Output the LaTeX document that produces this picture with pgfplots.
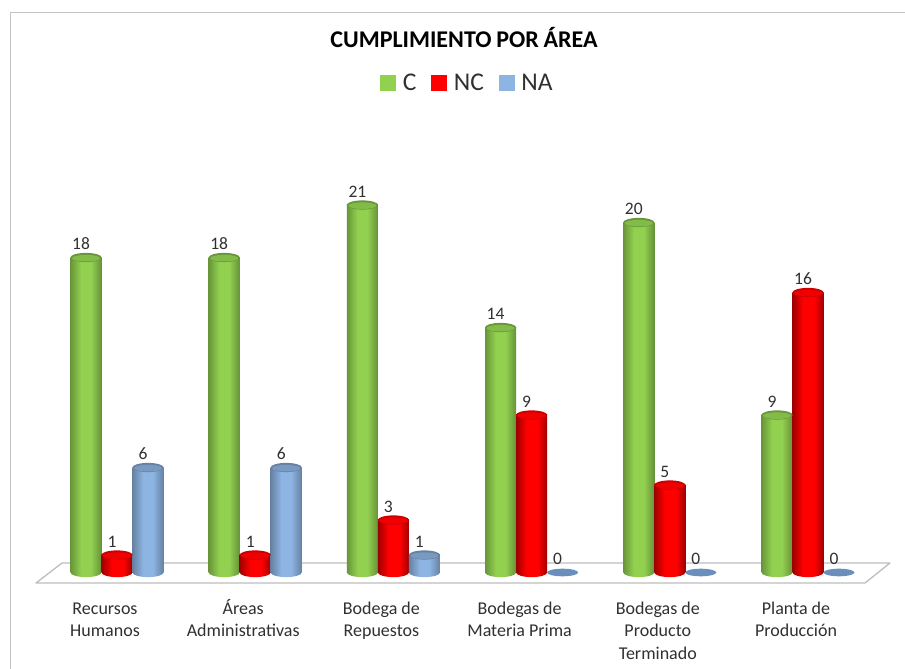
\documentclass[border=0pt]{standalone}
\usepackage{fontspec}
\setmainfont{Carlito}
\usepackage{pgfplots}
\usepackage{pgfplotstable}
\pgfplotsset{compat=1.18}

\definecolor{lbl}{HTML}{303030}
\definecolor{framec}{HTML}{C4C4C4}
\definecolor{floorc}{HTML}{BDBDBD}
\definecolor{cgreen}{HTML}{92D050}
\definecolor{cred}{HTML}{FF0000}
\definecolor{cblue}{HTML}{8DB4E2}
\definecolor{flatblue}{HTML}{6A8FBC}

\pgfdeclarehorizontalshading{greenbar}{100bp}{
  color(0bp)=(cgreen!72!black); color(25bp)=(cgreen!72!black); color(42bp)=(cgreen);
  color(58bp)=(cgreen); color(75bp)=(cgreen!70!black); color(100bp)=(cgreen!70!black)}
\pgfdeclarehorizontalshading{redbar}{100bp}{
  color(0bp)=(cred!62!black); color(25bp)=(cred!62!black); color(42bp)=(cred);
  color(60bp)=(cred); color(75bp)=(cred!62!black); color(100bp)=(cred!62!black)}
\pgfdeclarehorizontalshading{bluebar}{100bp}{
  color(0bp)=(cblue!72!black); color(25bp)=(cblue!72!black); color(42bp)=(cblue);
  color(58bp)=(cblue); color(75bp)=(cblue!72!black); color(100bp)=(cblue!72!black)}

% cylinder ends: a rim with a lighter inside on top, the lower half ellipse below
\newcommand\cylmarks[4]{%
  \pgfdeclareplotmark{#1cap}{%
    \pgfsetfillcolor{#2}\pgfpathellipse{\pgfpointorigin}{\pgfqpoint{15.6pt}{0pt}}{\pgfqpoint{0pt}{4.6pt}}\pgfusepathqfill
    \pgfsetfillcolor{#3}\pgfpathellipse{\pgfqpoint{0pt}{-0.7pt}}{\pgfqpoint{14pt}{0pt}}{\pgfqpoint{0pt}{3.3pt}}\pgfusepathqfill}%
  \pgfdeclareplotmark{#1base}{%
    \pgfpathmoveto{\pgfqpoint{-15.5pt}{0pt}}%
    \pgfpatharc{180}{360}{15.5pt and 4.6pt}\pgfpathclose
    \pgfshadepath{#4}{0}\pgfusepath{discard}}%
}
\colorlet{grim}{cgreen!72!black}\colorlet{gin}{cgreen!90!black}
\colorlet{rrim}{cred!80!black}\colorlet{rin}{cred!94!black}
\colorlet{brim}{cblue!72!black}\colorlet{bin}{cblue!85!black}
\cylmarks{g}{grim}{gin}{greenbar}
\cylmarks{r}{rrim}{rin}{redbar}
\cylmarks{b}{brim}{bin}{bluebar}
\pgfdeclareplotmark{cylflat}{\pgfpathellipse{\pgfpointorigin}{\pgfqpoint{15.5pt}{0pt}}{\pgfqpoint{0pt}{3.8pt}}\pgfusepathqfill}

% same height of first line, with or without an accent
\newcommand\tl{\rule{0pt}{17pt}}

\pgfplotstableread{
x C NC NA
0 18 1 6
1 18 1 6
2 21 3 1
3 14 9 0
4 20 5 0
5 9 16 0
}\areas

\pgfplotsset{
  cylbar/.style={ybar, bar width=31pt, bar shift=0pt, draw=none, forget plot, shading=#1},
  lblcap/.style={nodes near coords, point meta=explicit symbolic, every node near coord/.append style={font=\fontsize{17.5}{17.5}\selectfont, text=lbl, xshift=-5pt, yshift=6.5pt, inner sep=1pt, anchor=south}},
}

\begin{document}
\begin{tikzpicture}[x=1pt,y=1pt]
\path[use as bounding box] (0,-96.5) rectangle (905,572.5);
% frame and floor
\draw[framec, line width=1.8pt] (10.5,-96.5) -- (10.5,560) -- (905,560);
\draw[floorc, line width=1.3pt, line join=round] (36,-10.5) -- (865,-10.5) -- (890,9.5) -- (62,9.5) -- cycle;
\node[font=\fontsize{24}{24}\bfseries\selectfont, text=black] at (464,534.5) {\spaceskip=0.2em CUMPLIMIENTO POR ÁREA};

\begin{axis}[
  scale only axis, width=905pt, height=560pt,
  xmin=-0.8466, xmax=5.7019, ymin=0, ymax=32,
  axis line style={draw=none}, major tick length=0pt,
  clip=false,
  ytick=\empty,
  xtick={0,1,2,3,4,5},
  xticklabels={{\tl Recursos\\Humanos},{\tl Áreas\\Administrativas},{\tl Bodega de\\Repuestos},{\tl Bodegas de\\Materia Prima},{\tl Bodegas de\\Producto\\Terminado},{\tl Planta de\\Producción}},
  xticklabel style={align=center, font=\fontsize{18}{22.8}\selectfont, text=lbl, xshift=-12pt, yshift=-21pt, anchor=north},
  legend columns=3,
  legend style={at={(axis cs:2.536,27.97)}, anchor=center, draw=none, fill=none, font=\fontsize{25.5}{25.5}\selectfont, text=lbl,
    /tikz/every odd column/.append style={column sep=5pt},
    /tikz/every even column/.append style={column sep=13pt}},
  legend image code/.code={\fill[#1] (0pt,-7.5pt) rectangle (15pt,7.5pt);},
]
% C
\pgfplotsinvokeforeach{-0.3:-0.1,0.7:0.9,1.7:1.9,2.7:2.9,3.7:3.9,4.7:4.9}{
  \addplot[cylbar=greenbar, restrict x to domain=#1] table[x expr=\thisrow{x}-0.2243, y=C] {\areas};
}
\addplot[only marks, mark=gbase, forget plot] table[x expr=\thisrow{x}-0.2243, y expr=0] {\areas};
\addplot[only marks, mark=gcap, forget plot, lblcap] table[x expr=\thisrow{x}-0.2243, y=C, meta=C] {\areas};
% NC
\pgfplotsinvokeforeach{-0.1:0.1,0.9:1.1,1.9:2.1,2.9:3.1,3.9:4.1,4.9:5.1}{
  \addplot[cylbar=redbar, restrict x to domain=#1] table[x=x, y=NC] {\areas};
}
\addplot[only marks, mark=rbase, forget plot] table[x=x, y expr=0] {\areas};
\addplot[only marks, mark=rcap, forget plot, lblcap] table[x=x, y=NC, meta=NC] {\areas};
% NA, the zero ones are only a flat disc
\pgfplotsinvokeforeach{0.1:0.3,1.1:1.3,2.1:2.3}{
  \addplot[cylbar=bluebar, restrict x to domain=#1] table[x expr=\thisrow{x}+0.2243, y=NA] {\areas};
}
\addplot[only marks, mark=bbase, forget plot] coordinates {(0.2243,0) (1.2243,0) (2.2243,0)};
\addplot[only marks, mark=bcap, forget plot, lblcap, restrict y to domain=0.5:30] table[x expr=\thisrow{x}+0.2243, y=NA, meta=NA] {\areas};
\addplot[only marks, mark=cylflat, mark options={fill=flatblue}, forget plot, lblcap, restrict y to domain=-0.5:0.5] table[x expr=\thisrow{x}+0.2243, y=NA, meta=NA] {\areas};
% legend
\addlegendimage{cgreen}
\addlegendimage{cred}
\addlegendimage{cblue}
\legend{C,NC,NA}
\end{axis}
\end{tikzpicture}
\end{document}
